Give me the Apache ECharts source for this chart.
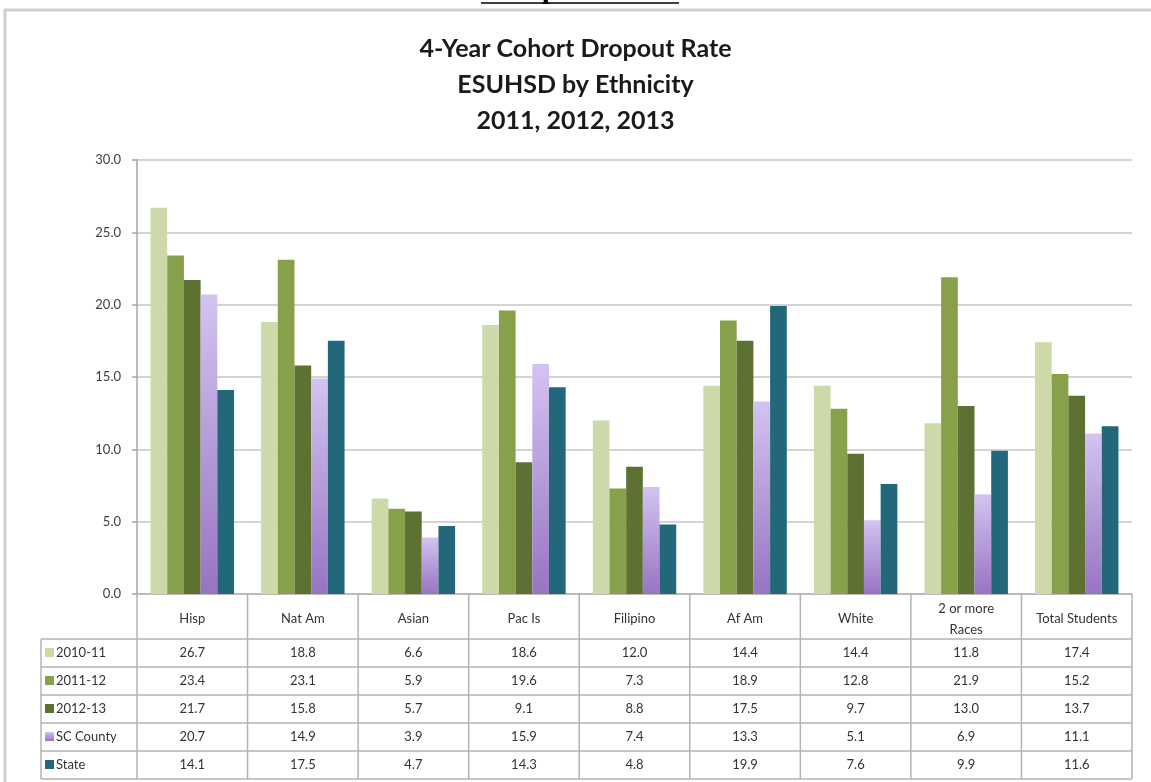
<!DOCTYPE html>
<html>
<head>
<meta charset="utf-8">
<script src="https://cdn.jsdelivr.net/npm/echarts@6/dist/echarts.min.js"></script>
<style>
html, body { margin: 0; padding: 0; background: #fff; }
#main { width: 1151px; height: 782px; }
</style>
</head>
<body>
<div id="main"></div>
<script>
// dropout rate by ethnicity, values
var categories = ['Hisp', 'Nat Am', 'Asian', 'Pac Is', 'Filipino', 'Af Am', 'White', '2 or more\nRaces', 'Total Students'];
var seriesNames = ['2010-11', '2011-12', '2012-13', 'SC County', 'State'];
var rate2010_11 = [26.7, 18.8, 6.6, 18.6, 12.0, 14.4, 14.4, 11.8, 17.4];
var rate2011_12 = [23.4, 23.1, 5.9, 19.6, 7.3, 18.9, 12.8, 21.9, 15.2];
var rate2012_13 = [21.7, 15.8, 5.7, 9.1, 8.8, 17.5, 9.7, 13.0, 13.7];
var rateCounty = [20.7, 14.9, 3.9, 15.9, 7.4, 13.3, 5.1, 6.9, 11.1];
var rateState = [14.1, 17.5, 4.7, 14.3, 4.8, 19.9, 7.6, 9.9, 11.6];
var allRates = [rate2010_11, rate2011_12, rate2012_13, rateCounty, rateState];

var purple = new echarts.graphic.LinearGradient(0, 0, 0, 1, [
    { offset: 0, color: '#d3c3f2' },
    { offset: 1, color: '#9874c2' }
]);
var colors = ['#cdd9a9', '#87a14b', '#5d7133', purple, '#23687a'];
var font = 'Lato, "Open Sans", sans-serif';
var lineColor = '#b3b3b3';

var chart = echarts.init(document.getElementById('main'), null, { renderer: 'canvas' });

var series = seriesNames.map(function(name, i) {
    return {
        name: name,
        type: 'bar',
        data: allRates[i],
        barGap: 0,
        barCategoryGap: '24.5%',
        itemStyle: { color: colors[i] },
        animation: false
    };
});

chart.setOption({
    backgroundColor: '#fff',
    animation: false,
    title: {
        text: '4-Year Cohort Dropout Rate\nESUHSD by Ethnicity\n2011, 2012, 2013',
        left: 'center',
        top: 26,
        textStyle: {
            fontFamily: font,
            fontWeight: 'bold',
            fontSize: 25,
            lineHeight: 36,
            color: '#1a1a1a'
        }
    },
    grid: { left: 137, right: 19, top: 160, bottom: 188 },
    xAxis: {
        type: 'category',
        data: categories,
        axisLine: { show: true, lineStyle: { color: lineColor, width: 1.5 } },
        axisTick: { show: false },
        axisLabel: { show: false },
        splitLine: { show: false }
    },
    yAxis: {
        type: 'value',
        min: 0,
        max: 30,
        interval: 5,
        axisLine: { show: true, lineStyle: { color: '#a6a6a6', width: 1.5 } },
        axisTick: { show: true, length: 5, lineStyle: { color: '#a6a6a6', width: 1.5 } },
        axisLabel: {
            margin: 16,
            fontFamily: font,
            fontSize: 13,
            color: '#404040',
            formatter: function(v) { return v.toFixed(1); }
        },
        splitLine: { lineStyle: { color: '#d4d4d4', width: 2 } }
    },
    series: series
});

// data table under the plot, laid out from the axis positions
function buildTable() {
    var c0 = chart.convertToPixel({ xAxisIndex: 0 }, 0);
    var c1 = chart.convertToPixel({ xAxisIndex: 0 }, 1);
    var band = c1 - c0;
    var yZero = chart.convertToPixel({ yAxisIndex: 0 }, 0);
    var left = c0 - band / 2;
    var right = left + band * categories.length;
    var tableLeft = 41;
    var headerBottom = yZero + 45;
    var rowH = 28;
    var tableBottom = headerBottom + rowH * seriesNames.length;
    var els = [];

    // outer frame of the chart object
    els.push({
        type: 'rect', silent: true, z: 1,
        shape: { x: 5, y: 10, width: 1300, height: 900 },
        style: { fill: null, stroke: '#cfcfcf', lineWidth: 3 }
    });
    // heading of the page cut off at the top
    els.push({
        type: 'text', silent: true, z: 1,
        x: 580, y: -10,
        style: { text: 'Dropout Rate', font: 'bold 30px "Liberation Serif", serif', fill: '#000', align: 'center', verticalAlign: 'middle' }
    });
    els.push({
        type: 'line', silent: true, z: 1,
        shape: { x1: 481, y1: 3, x2: 679, y2: 3 },
        style: { stroke: '#000', lineWidth: 1.5 }
    });

    // vertical lines
    for (var i = 0; i <= categories.length; i++) {
        var x = left + band * i;
        els.push({
            type: 'line', silent: true, z: 5,
            shape: { x1: x, y1: yZero, x2: x, y2: tableBottom },
            style: { stroke: lineColor, lineWidth: 1.5 }
        });
    }
    els.push({
        type: 'line', silent: true, z: 5,
        shape: { x1: tableLeft, y1: headerBottom, x2: tableLeft, y2: tableBottom },
        style: { stroke: lineColor, lineWidth: 1.5 }
    });
    // horizontal lines
    for (var r = 0; r <= seriesNames.length; r++) {
        var y = headerBottom + rowH * r;
        els.push({
            type: 'line', silent: true, z: 5,
            shape: { x1: tableLeft, y1: y, x2: right, y2: y },
            style: { stroke: lineColor, lineWidth: 1.5 }
        });
    }
    // header
    categories.forEach(function(cat, i) {
        els.push({
            type: 'text', silent: true, z: 6,
            x: left + band * (i + 0.5), y: yZero + 25,
            style: { text: cat, font: '13px ' + font, fill: '#333', align: 'center', verticalAlign: 'middle', lineHeight: 21 }
        });
    });
    // rows
    seriesNames.forEach(function(name, r) {
        var cy = headerBottom + rowH * (r + 0.5);
        els.push({
            type: 'rect', silent: true, z: 6,
            shape: { x: 45, y: cy - 5, width: 9, height: 9 },
            style: { fill: colors[r] }
        });
        els.push({
            type: 'text', silent: true, z: 6,
            x: 56, y: cy,
            style: { text: name, font: '13px ' + font, fill: '#333', align: 'left', verticalAlign: 'middle' }
        });
        allRates[r].forEach(function(v, i) {
            els.push({
                type: 'text', silent: true, z: 6,
                x: left + band * (i + 0.5), y: cy,
                style: { text: v.toFixed(1), font: '13px ' + font, fill: '#333', align: 'center', verticalAlign: 'middle' }
            });
        });
    });

    chart.setOption({ graphic: { elements: els } });
}

buildTable();
</script>
</body>
</html>
